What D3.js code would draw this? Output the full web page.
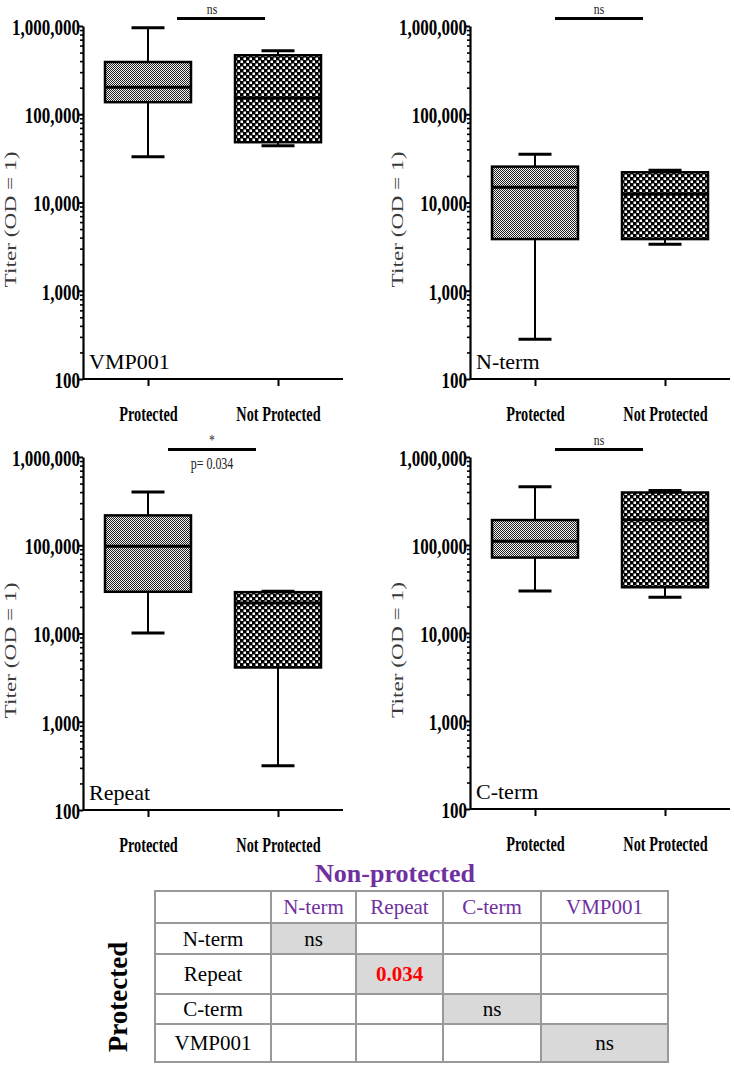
<!DOCTYPE html>
<html><head><meta charset="utf-8">
<script src="https://cdn.jsdelivr.net/npm/d3@7"></script>
<style>body{margin:0;background:#fff}svg{display:block}</style>
</head><body>
<svg id="c" width="734" height="1067"></svg>
<script>
// ---------- data ----------
const groups = ["Protected", "Not Protected"];
const panelNames = ["VMP001", "N-term", "Repeat", "C-term"];
// [lower whisker, Q1, median, Q3, upper whisker] for Protected / Not Protected
const vmp001Stats = [[33100, 137000, 202000, 391000, 955000], [44100, 48200, 153000, 466000, 525000]];
const ntermStats  = [[283, 3850, 14900, 25500, 35200], [3370, 3850, 12500, 22000, 23200]];
const repeatStats = [[10100, 29700, 97700, 218000, 401000], [318, 4120, 22200, 29400, 30200]];
const ctermStats  = [[30100, 72000, 110000, 192000, 459000], [25400, 33100, 194000, 395000, 417000]];
const sigLabels = ["ns", "ns", "*", "ns"];
const pValueLabels = ["", "", "p= 0.034", ""];
const yTickValues = [100, 1000, 10000, 100000, 1000000];
const yTickLabels = ["100", "1,000", "10,000", "100,000", "1,000,000"];
const yTitle = "Titer (OD = 1)";
const tableTitle = "Non-protected";
const tableRowTitle = "Protected";
const tableCols = ["N-term", "Repeat", "C-term", "VMP001"];
const tableRows = ["N-term", "Repeat", "C-term", "VMP001"];
const tableDiag = ["ns", "0.034", "ns", "ns"];

// ---------- layout ----------
const statsList = [vmp001Stats, ntermStats, repeatStats, ctermStats];
const layout = [
  {ax: 83,  yt: 26,  yb: 379, barShift: 8},
  {ax: 470, yt: 26,  yb: 379, barShift: -1},
  {ax: 83,  yt: 457, yb: 810, barShift: -1},
  {ax: 470, yt: 457, yb: 809, barShift: -1}
];
const svg = d3.select("#c");
const defs = svg.append("defs");
const p1 = defs.append("pattern").attr("id", "fine").attr("patternUnits", "userSpaceOnUse")
  .attr("width", 2).attr("height", 2);
p1.append("rect").attr("width", 2).attr("height", 2).attr("fill", "#f2f2f2");
p1.append("rect").attr("width", 1).attr("height", 1).attr("fill", "#222");
p1.append("rect").attr("x", 1).attr("y", 1).attr("width", 1).attr("height", 1).attr("fill", "#222");
const p2 = defs.append("pattern").attr("id", "coarse").attr("patternUnits", "userSpaceOnUse")
  .attr("width", 6).attr("height", 6);
p2.append("rect").attr("width", 6).attr("height", 6).attr("fill", "#000");
p2.append("rect").attr("x", 0.5).attr("y", 0.5).attr("width", 2.5).attr("height", 2.5).attr("fill", "#fff");
p2.append("rect").attr("x", 3.5).attr("y", 3.5).attr("width", 2.5).attr("height", 2.5).attr("fill", "#fff");
const fills = ["url(#fine)", "url(#coarse)"];

const serif = "'Liberation Serif', 'Times New Roman', serif";
const boxW = 86, capW = 33;

panelNames.forEach((name, i) => {
  const L = layout[i];
  const stats = statsList[i];
  const g = svg.append("g");
  const x = d3.scalePoint().domain(groups).range([L.ax, L.ax + 260]).padding(0.5);
  const y = d3.scaleLog().domain([100, 1000000]).range([L.yb, L.yt]);

  // minor ticks
  const minors = [];
  for (let e = 2; e <= 5; e++) for (let m = 2; m <= 9; m++) minors.push(m * Math.pow(10, e));
  g.append("g").attr("transform", `translate(${L.ax},0)`)
    .call(d3.axisLeft(y).tickValues(minors).tickSize(3).tickFormat(""))
    .call(s => s.select(".domain").remove())
    .call(s => s.selectAll("line").attr("stroke-width", 1.6));

  // y axis
  const ya = g.append("g").attr("transform", `translate(${L.ax},0)`)
    .call(d3.axisLeft(y).tickValues(yTickValues).tickSize(4).tickPadding(0).tickSizeOuter(0)
      .tickFormat((d) => yTickLabels[yTickValues.indexOf(d)]));
  ya.select(".domain").attr("stroke-width", 2.2);
  ya.selectAll("line").attr("stroke-width", 2);
  ya.selectAll("text").attr("font-family", serif).attr("font-weight", "bold")
    .attr("font-size", 23).attr("fill", "#000").attr("dy", "0.36em")
    .attr("transform", "scale(0.74,1)");

  // x axis
  const xa = g.append("g").attr("transform", `translate(0,${L.yb})`)
    .call(d3.axisBottom(x).tickSize(7).tickSizeOuter(0).tickPadding(0));
  xa.select(".domain").attr("d", `M${L.ax},0H${L.ax + 260}`).attr("stroke-width", 2.2);
  xa.selectAll("line").attr("stroke-width", 2);
  xa.selectAll("text").attr("font-family", serif).attr("font-weight", "bold")
    .attr("font-size", 22).attr("fill", "#000").attr("y", 0).attr("dy", 0)
    .attr("transform", "translate(0,42) scale(0.65,1)");

  // y title
  g.append("text").attr("transform", `translate(${L.ax - 67},${(L.yt + L.yb) / 2 + 17}) rotate(-90)`)
    .attr("text-anchor", "middle").attr("font-family", serif).attr("font-size", 17)
    .attr("fill", "#3a3a3a").attr("textLength", 136).attr("lengthAdjust", "spacingAndGlyphs")
    .text(yTitle);

  // panel label
  g.append("text").attr("x", L.ax + 6).attr("y", L.yb - 10).attr("font-family", serif)
    .attr("font-size", 22).attr("fill", "#000").text(name);

  // boxes
  groups.forEach((grp, j) => {
    const s = stats[j];
    const cx = x(grp);
    const bg = g.append("g");
    bg.append("line").attr("x1", cx).attr("x2", cx).attr("y1", y(s[3])).attr("y2", y(s[4]))
      .attr("stroke", "#000").attr("stroke-width", 2);
    bg.append("line").attr("x1", cx).attr("x2", cx).attr("y1", y(s[1])).attr("y2", y(s[0]))
      .attr("stroke", "#000").attr("stroke-width", 2);
    [s[0], s[4]].forEach(v => bg.append("line").attr("x1", cx - capW / 2).attr("x2", cx + capW / 2)
      .attr("y1", y(v)).attr("y2", y(v)).attr("stroke", "#000").attr("stroke-width", 3));
    bg.append("rect").attr("x", cx - boxW / 2).attr("width", boxW)
      .attr("y", y(s[3])).attr("height", y(s[1]) - y(s[3]))
      .attr("fill", fills[j]).attr("stroke", "#000").attr("stroke-width", 2.5);
    bg.append("line").attr("x1", cx - boxW / 2).attr("x2", cx + boxW / 2)
      .attr("y1", y(s[2])).attr("y2", y(s[2])).attr("stroke", "#000").attr("stroke-width", 3);
  });

  // significance bar
  const mid = (x(groups[0]) + x(groups[1])) / 2 + L.barShift;
  const by = L.yt - 7.5;
  g.append("line").attr("x1", mid - 44).attr("x2", mid + 44).attr("y1", by).attr("y2", by)
    .attr("stroke", "#000").attr("stroke-width", 3);
  const sig = sigLabels[i];
  g.append("text").attr("transform", `translate(${mid - (L.barShift > 0 ? 9 : 0)},${sig === "*" ? by - 5 : by - 5}) scale(0.78,1)`)
    .attr("text-anchor", "middle").attr("font-family", serif).attr("font-size", 15)
    .attr("fill", "#222").text(sig);
  if (pValueLabels[i]) {
    g.append("text").attr("transform", `translate(${mid},${by + 19}) scale(0.75,1)`)
      .attr("text-anchor", "middle").attr("font-family", serif).attr("font-size", 16)
      .attr("fill", "#222").text(pValueLabels[i]);
  }
});

// ---------- table ----------
const colEdges = [155, 271, 356, 443, 541, 668];
const rowEdges = [891, 923, 954, 994, 1024, 1062];
const purple = "#7030A0";
const t = svg.append("g");
tableDiag.forEach((v, k) => {
  t.append("rect").attr("x", colEdges[k + 1]).attr("y", rowEdges[k + 1])
    .attr("width", colEdges[k + 2] - colEdges[k + 1]).attr("height", rowEdges[k + 2] - rowEdges[k + 1])
    .attr("fill", "#d9d9d9");
});
colEdges.forEach(cx => t.append("line").attr("x1", cx).attr("x2", cx)
  .attr("y1", rowEdges[0]).attr("y2", rowEdges[rowEdges.length - 1])
  .attr("stroke", "#999").attr("stroke-width", 2));
rowEdges.forEach(ry => t.append("line").attr("y1", ry).attr("y2", ry)
  .attr("x1", colEdges[0] - 1).attr("x2", colEdges[colEdges.length - 1] + 1)
  .attr("stroke", "#999").attr("stroke-width", 2));
const cellX = k => (colEdges[k] + colEdges[k + 1]) / 2;
const cellY = k => (rowEdges[k] + rowEdges[k + 1]) / 2;
tableCols.forEach((c, k) => t.append("text").attr("x", cellX(k + 1)).attr("y", cellY(0)).attr("dy", "0.35em")
  .attr("text-anchor", "middle").attr("font-family", serif).attr("font-size", 21).attr("fill", purple).text(c));
tableRows.forEach((r, k) => t.append("text").attr("x", cellX(0)).attr("y", cellY(k + 1)).attr("dy", "0.35em")
  .attr("text-anchor", "middle").attr("font-family", serif).attr("font-size", 21).attr("fill", "#000").text(r));
tableDiag.forEach((v, k) => {
  const isP = v !== "ns";
  t.append("text").attr("x", cellX(k + 1)).attr("y", cellY(k + 1)).attr("dy", "0.35em")
    .attr("text-anchor", "middle").attr("font-family", serif).attr("font-size", 21)
    .attr("font-weight", isP ? "bold" : "normal").attr("fill", isP ? "#ff0000" : "#000").text(v);
});
t.append("text").attr("x", 395).attr("y", 873).attr("dy", "0.35em").attr("text-anchor", "middle")
  .attr("font-family", serif).attr("font-size", 26).attr("font-weight", "bold").attr("fill", purple)
  .text(tableTitle);
t.append("text").attr("transform", "translate(118,997) rotate(-90)").attr("dy", "0.35em")
  .attr("text-anchor", "middle").attr("font-family", serif).attr("font-size", 27).attr("font-weight", "bold")
  .attr("fill", "#000").text(tableRowTitle);
</script>
</body></html>
